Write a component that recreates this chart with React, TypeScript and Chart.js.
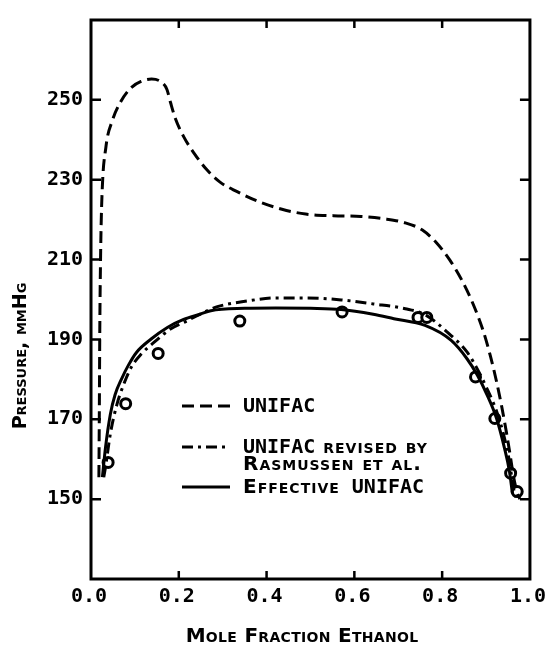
import React, { useEffect, useRef } from 'react';
import { Chart, registerables } from 'chart.js';

Chart.register(...registerables);

// ---- Data ----
// UNIFAC (dashed)
const unifacX = [0.018, 0.019, 0.020, 0.022, 0.025, 0.034, 0.048, 0.067, 0.091, 0.114, 0.138, 0.161, 0.173, 0.181, 0.192, 0.212, 0.235, 0.263, 0.294, 0.333, 0.380, 0.435, 0.489, 0.552, 0.615, 0.669, 0.716, 0.755, 0.787, 0.818, 0.845, 0.870, 0.894, 0.910, 0.924, 0.936, 0.946, 0.955, 0.962, 0.970, 0.977];
const unifacY = [155.5, 172, 192, 212, 226, 238.2, 244.6, 249.4, 253.0, 254.6, 255.2, 254.4, 252.6, 249.4, 245.4, 240.6, 236.6, 232.6, 229.4, 227.0, 224.6, 222.6, 221.4, 221.0, 220.8, 220.2, 219.2, 217.4, 214.2, 209.8, 204.8, 199.0, 192.0, 185.8, 179.4, 173.0, 167.0, 161.0, 156.0, 152.0, 150.0];

// UNIFAC revised by Rasmussen et al. (dash-dot)
const revisedX = [0.029, 0.033, 0.044, 0.059, 0.074, 0.092, 0.115, 0.144, 0.181, 0.218, 0.248, 0.288, 0.355, 0.421, 0.494, 0.570, 0.643, 0.716, 0.761, 0.813, 0.857, 0.880, 0.902, 0.924, 0.942, 0.953, 0.962, 0.968];
const revisedY = [155.5, 158.0, 166.3, 173.7, 178.6, 183.1, 186.4, 189.3, 192.6, 194.6, 196.3, 198.2, 199.6, 200.4, 200.4, 199.9, 198.9, 197.7, 196.2, 191.7, 186.8, 182.6, 177.7, 172.0, 165.3, 159.6, 153.0, 150.5];

// Effective UNIFAC (solid)
const effectiveX = [0.026, 0.033, 0.044, 0.055, 0.070, 0.085, 0.104, 0.137, 0.174, 0.211, 0.248, 0.273, 0.350, 0.421, 0.500, 0.570, 0.643, 0.690, 0.761, 0.820, 0.857, 0.880, 0.902, 0.924, 0.942, 0.953, 0.960];
const effectiveY = [155.5, 162.9, 171.2, 176.2, 180.2, 183.5, 186.8, 190.1, 193.0, 195.0, 196.3, 197.2, 197.8, 197.9, 197.8, 197.5, 196.3, 195.2, 193.5, 189.8, 185.1, 181.1, 176.2, 170.2, 162.8, 157.2, 151.5];

// Experimental points (circles)
const expX = [0.039, 0.079, 0.153, 0.339, 0.572, 0.745, 0.765, 0.876, 0.920, 0.956, 0.971];
const expY = [159.2, 173.9, 186.5, 194.6, 196.9, 195.5, 195.5, 180.6, 170.2, 156.5, 151.9];

// Axes
const xMin = 0;
const xMax = 1;
const xStep = 0.2;
const xInnerTicks = [0.2, 0.4, 0.6, 0.8];
const yMin = 130;
const yMax = 270;
const yTickValues = [150, 170, 190, 210, 230, 250];
const xTitle = 'Mole Fraction Ethanol';
const yTitle = 'Pressure, mmHg';

// Legend rows: segments [text, smallCaps]
const legendRows: { ds: number; lines: [string, boolean][][] }[] = [
  { ds: 0, lines: [[['UNIFAC', false]]] },
  { ds: 1, lines: [[['UNIFAC', false], [' revised by', true]], [['Rasmussen et al.', true]]] },
  { ds: 2, lines: [[['Effective', true], [' UNIFAC', false]]] },
];

const toXY = (xs: number[], ys: number[]) => xs.map((x, i) => ({ x, y: ys[i] }));

function setFont(ctx: any, font: string, sc: boolean, ls: number) {
  ctx.font = font;
  try { ctx.fontVariantCaps = sc ? 'small-caps' : 'normal'; } catch (e) { /* ignore */ }
  try { ctx.letterSpacing = ls + 'px'; } catch (e) { /* ignore */ }
}

export default function App() {
  const canvasRef = useRef<HTMLCanvasElement | null>(null);

  useEffect(() => {
    const canvas = canvasRef.current;
    if (!canvas) return;

    const condFamily = '"DejaVu Sans Mono", monospace';
    const condSize = 20;
    const condFont = `bold ${condSize}px ${condFamily}`;
    const scFamily = '"DejaVu Sans", sans-serif';

    const framePlugin = {
      id: 'framePlugin',
      afterDraw(chart: any) {
        const { ctx, chartArea: a, scales } = chart;
        const xs = scales.x;
        const ys = scales.y;
        ctx.save();
        ctx.strokeStyle = '#000';
        ctx.fillStyle = '#000';
        // frame
        ctx.lineWidth = 3;
        ctx.strokeRect(a.left, a.top, a.right - a.left, a.bottom - a.top);
        // inward ticks
        ctx.lineWidth = 2.5;
        ctx.beginPath();
        for (const v of xInnerTicks) {
          const px = xs.getPixelForValue(v);
          ctx.moveTo(px, a.bottom);
          ctx.lineTo(px, a.bottom - 8);
          ctx.moveTo(px, a.top);
          ctx.lineTo(px, a.top + 8);
        }
        for (const v of yTickValues) {
          const py = ys.getPixelForValue(v);
          ctx.moveTo(a.left, py);
          ctx.lineTo(a.left + 10, py);
          ctx.moveTo(a.right, py);
          ctx.lineTo(a.right - 10, py);
        }
        ctx.stroke();

        // axis titles (small caps)
        ctx.textBaseline = 'middle';
        ctx.textAlign = 'center';
        setFont(ctx, `small-caps bold 20px ${scFamily}`, true, 0.3);
        ctx.fillText(xTitle, a.left + 211, 637);
        ctx.save();
        ctx.translate(21, a.top + 336);
        ctx.rotate(-Math.PI / 2);
        setFont(ctx, `small-caps bold 19px ${scFamily}`, true, 0);
        ctx.fillText(yTitle, 0, 0);
        ctx.restore();

        // legend inside the plot
        const sampleL = a.left + 91;
        const sampleR = a.left + 139;
        const textL = a.left + 152;
        const rowY = [a.top + 386, a.top + 427, a.top + 467];
        ctx.textAlign = 'left';
        legendRows.forEach((row, ri) => {
          const ds = chart.data.datasets[row.ds];
          const y0 = rowY[ri];
          ctx.save();
          ctx.lineWidth = ds.borderWidth;
          ctx.setLineDash(ds.borderDash || []);
          ctx.beginPath();
          ctx.moveTo(sampleL, y0);
          ctx.lineTo(sampleR, y0);
          ctx.stroke();
          ctx.restore();
          row.lines.forEach((segs, li) => {
            let cx = textL;
            const ty = y0 + 1 + li * 17;
            for (const [t, sc] of segs) {
              if (sc) setFont(ctx, `small-caps bold 20px ${scFamily}`, true, 1);
              else setFont(ctx, condFont, false, 0);
              ctx.fillText(t, cx, ty);
              cx += ctx.measureText(t).width;
            }
          });
        });
        setFont(ctx, condFont, false, 0);
        ctx.restore();
      },
    };

    const lineBase = {
      showLine: true,
      borderColor: '#000',
      backgroundColor: '#000',
      pointRadius: 0,
      pointHoverRadius: 0,
      fill: false,
      cubicInterpolationMode: 'monotone',
    };

    const chart = new Chart(canvas, {
      type: 'line',
      data: {
        datasets: [
          { ...lineBase, label: 'UNIFAC', data: toXY(unifacX, unifacY), borderWidth: 3, borderDash: [12, 6] },
          { ...lineBase, label: 'UNIFAC revised by Rasmussen et al.', data: toXY(revisedX, revisedY), borderWidth: 3, borderDash: [11, 5, 3, 5] },
          { ...lineBase, label: 'Effective UNIFAC', data: toXY(effectiveX, effectiveY), borderWidth: 3 },
          {
            label: 'Experimental',
            data: toXY(expX, expY),
            showLine: false,
            pointRadius: 5,
            pointBorderWidth: 3,
            pointBackgroundColor: '#fff',
            pointBorderColor: '#000',
            borderColor: '#000',
          },
          {
            label: 'Experimental (centre)',
            data: toXY(expX, expY),
            showLine: false,
            pointRadius: 1.8,
            pointBorderWidth: 0,
            pointBackgroundColor: '#000',
            pointBorderColor: '#000',
            borderColor: '#000',
          },
        ],
      },
      options: {
        responsive: false,
        animation: false,
        events: [],
        layout: { padding: { left: 0, right: 12, top: 14, bottom: 0 }, autoPadding: false },
        plugins: {
          legend: { display: false },
          tooltip: { enabled: false },
          title: { display: false },
        },
        scales: {
          x: {
            type: 'linear',
            min: xMin,
            max: xMax,
            position: 'bottom',
            grid: { display: false, drawTicks: false },
            border: { display: false },
            ticks: {
              stepSize: xStep,
              autoSkip: false,
              maxRotation: 0,
              padding: 6,
              labelOffset: -2,
              color: '#000',
              font: { family: condFamily, size: condSize, weight: 'bold' },
              callback: (v: any) => Number(v).toFixed(1),
            },
            afterFit: (s: any) => { s.height = 67; },
          },
          y: {
            type: 'linear',
            min: yMin,
            max: yMax,
            position: 'left',
            grid: { display: false, drawTicks: false },
            border: { display: false },
            ticks: {
              padding: 8,
              color: '#000',
              font: { family: condFamily, size: condSize, weight: 'bold' },
              callback: (v: any) => String(v),
            },
            afterBuildTicks: (s: any) => { s.ticks = yTickValues.map((v) => ({ value: v })); },
            afterFit: (s: any) => { s.width = 91; },
          },
        },
      },
      plugins: [framePlugin],
    } as any);

    return () => { chart.destroy(); };
  }, []);

  return (
    <div style={{ position: 'fixed', left: 0, top: 0, width: 554, height: 646, background: '#fff' }}>
      <canvas ref={canvasRef} width={554} height={646} style={{ display: 'block', width: 554, height: 646 }} />
    </div>
  );
}
